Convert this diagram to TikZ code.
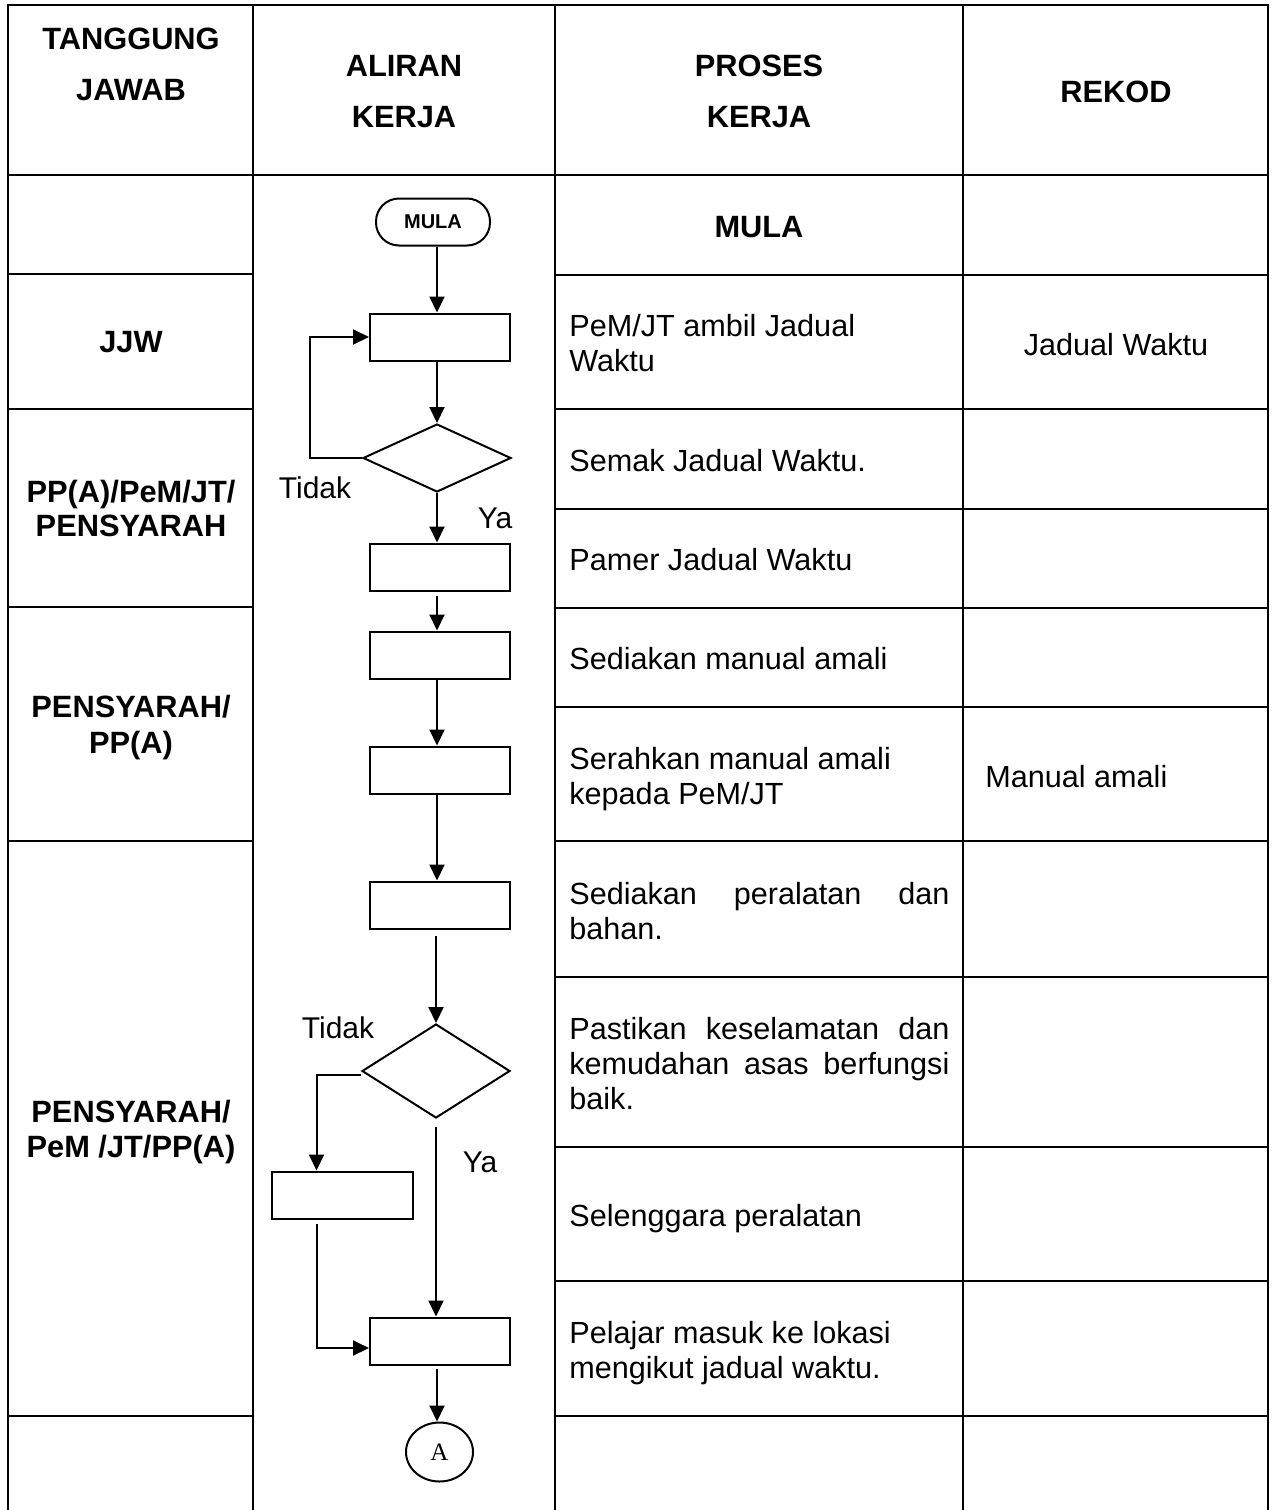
\documentclass[tikz,border=0pt]{standalone}
\usepackage{fontspec}
\setmainfont{Liberation Sans}
\newfontfamily\serifA{Liberation Serif}
\usetikzlibrary{shapes.geometric,arrows.meta}
\begin{document}
\begin{tikzpicture}[x=0.5pt,y=-0.5pt,
  grid/.style={line width=1.1pt},
  flow/.style={line width=1pt},
  arr/.style={flow,-{Triangle[width=7.5pt,length=8pt]}},
  box/.style={draw,line width=1pt,rectangle,minimum width=70pt,minimum height=23.5pt,inner sep=0pt},
  dia/.style={draw,line width=1pt,diamond,minimum width=74pt,inner sep=0pt},
  hdr/.style={font=\fontsize{15.4}{18}\selectfont\bfseries,inner sep=0pt,anchor=base},
  txt/.style={font=\fontsize{15.3}{17.5}\selectfont,inner sep=0pt,anchor=base west},
  lbl/.style={font=\fontsize{15}{17}\selectfont,inner sep=0pt}
]
\useasboundingbox (0,0) rectangle (1272,1510);
% table
\draw[grid] (8,1510) -- (8,5) -- (1268,5) -- (1268,1510);
\foreach \x in {253,555,963} \draw[grid] (\x,5) -- (\x,1510);
\draw[grid] (8,175) -- (1268,175);
\foreach \y in {274,409,607,841,1416} \draw[grid] (8,\y) -- (253,\y);
\foreach \y in {275,409,509,608,707,841,977,1147,1281,1416} \draw[grid] (555,\y) -- (1268,\y);

% flow nodes
\node[draw,flow,rounded corners=11.5pt,minimum width=57pt,minimum height=23.5pt,inner sep=0pt,font=\fontsize{10}{12}\selectfont\bfseries] (start) at (433,222) {MULA};
\node[box] (b1) at (440,337) {};
\node[dia,minimum height=34pt] (d1) at (437,458) {};
\node[box] (b2) at (440,567) {};
\node[box] (b3) at (440,655) {};
\node[box] (b4) at (440,770) {};
\node[box] (b5) at (440,905) {};
\node[dia,minimum height=47pt] (d2) at (436,1071) {};
\node[box,minimum width=70.5pt] (b6) at (342,1195) {};
\node[box] (b7) at (440,1341) {};
\node[draw,flow,ellipse,minimum width=33.5pt,minimum height=29.5pt,inner sep=0pt,font=\serifA\fontsize{12.5}{14}\selectfont] (endA) at (439.5,1452) {A};

% connectors
\draw[arr] (start.south -| d1.north) -- (b1.north -| d1.north);
\draw[arr] (b1.south -| d1.north) -- (d1.north);
\draw[arr] (d1.south) -- (b2.north -| d1.north);
\draw[arr] (d1.west) -- ++(-52,0) |- (b1.west);
\draw[arr,shorten <=2pt] (b2.south -| d1.north) -- (b3.north -| d1.north);
\draw[arr] (b3.south -| d1.north) -- (b4.north -| d1.north);
\draw[arr] (b4.south -| d1.north) -- (b5.north -| d1.north);
\draw[arr,shorten <=3pt] (b5.south -| d2.north) -- (d2.north);
\draw[arr] ([yshift=-2pt]d2.west) -| ([xshift=-12.75pt]b6.north);
\draw[arr] ([xshift=-12.75pt,yshift=-2pt]b6.south) |- ([yshift=-3.5pt]b7.west);
\draw[arr,shorten <=4pt] (d2.south) -- (b7.north -| d2.south);
\draw[arr,shorten <=1.5pt] (b7.south -| d1.north) -- (endA.north -| d1.north);

% flow labels
\node[lbl] (t1) at (315,488) {Tidak};
\node[lbl] (y1) at (495,518) {Ya};
\node[lbl] (t2) at (338,1028) {Tidak};
\node[lbl] (y2) at (480,1162) {Ya};

% headers
\node[hdr] (h1a) at (131,49) {TANGGUNG};
\node[hdr] (h1b) at (131,100) {JAWAB};
\node[hdr] (h2a) at (404,76) {ALIRAN};
\node[hdr] (h2b) at (404,127) {KERJA};
\node[hdr] (h3a) at (759,76) {PROSES};
\node[hdr] (h3b) at (759,127) {KERJA};
\node[hdr] (h4) at (1116,102) {REKOD};
\node[hdr] (m) at (759,237) {MULA};

% column 1
\node[hdr] (r1) at (131,352) {JJW};
\node[hdr] (r2a) at (131,502) {PP(A)/PeM/JT/};
\node[hdr] (r2b) at (131,536) {PENSYARAH};
\node[hdr] (r3a) at (131,717) {PENSYARAH/};
\node[hdr] (r3b) at (131,753) {PP(A)};
\node[hdr] (r4a) at (131,1122) {PENSYARAH/};
\node[hdr] (r4b) at (131,1157) {PeM /JT/PP(A)};

% column 3
\node[txt] (p1a) at (569,336) {PeM/JT ambil Jadual};
\node[txt] (p1b) at (569,371) {Waktu};
\node[txt] (p2) at (569,471) {Semak Jadual Waktu.};
\node[txt] (p3) at (569,570) {Pamer Jadual Waktu};
\node[txt] (p4) at (569,669) {Sediakan manual amali};
\node[txt] (p5a) at (569,769) {Serahkan manual amali};
\node[txt] (p5b) at (569,804) {kepada PeM/JT};
\node[txt] (p6a) at (569,904) {\makebox[190pt][s]{Sediakan peralatan dan}};
\node[txt] (p6b) at (569,939) {bahan.};
\node[txt] (p7a) at (569,1039) {\makebox[190pt][s]{Pastikan keselamatan dan}};
\node[txt] (p7b) at (569,1074) {\makebox[190pt][s]{kemudahan asas berfungsi}};
\node[txt] (p7c) at (569,1109) {baik.};
\node[txt] (p8) at (569,1226) {Selenggara peralatan};
\node[txt] (p9a) at (569,1343) {Pelajar masuk ke lokasi};
\node[txt] (p9b) at (569,1378) {mengikut jadual waktu.};

% column 4
\node[txt,anchor=base] (k1) at (1116,355) {Jadual Waktu};
\node[txt] (k2) at (985,787) {Manual amali};
\end{tikzpicture}
\end{document}
